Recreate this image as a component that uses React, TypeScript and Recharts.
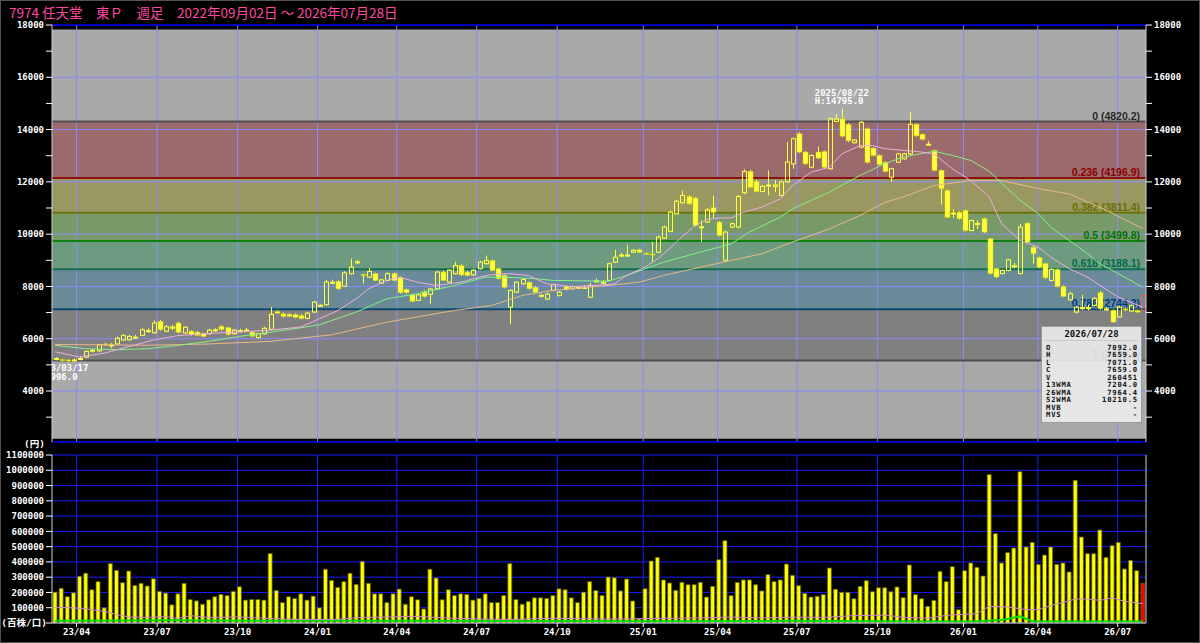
import React from 'react';
import {
  ComposedChart, Bar, Line, XAxis, YAxis, CartesianGrid,
  ReferenceArea, ReferenceLine, ReferenceDot, Cell,
} from 'recharts';

// ---------------- data ----------------
const opens = [
  5220, 5200, 5190, 5180, 5220, 5300, 5540, 5540, 5800, 5740,
  5800, 5950, 5960, 6040, 6130, 6290, 6230, 6660, 6290, 6470,
  6600, 6220, 6290, 6250, 6190, 6190, 6320, 6470, 6420, 6190,
  6290, 6310, 6250, 6040, 6190, 6360, 7040, 6950, 6890, 6920,
  6880, 6780, 7020, 7260, 7300, 8140, 8190, 8010, 8490, 8920,
  8460, 8360, 8490, 8130, 8230, 8490, 8330, 7880, 7680, 7470,
  7800, 7700, 7910, 8550, 8170, 8490, 8800, 8550, 8440, 8680,
  8870, 8990, 8680, 8420, 7210, 7780, 8100, 8160, 7970, 7640,
  7520, 7850, 7650, 8000, 7910, 7940, 7940, 7590, 8190, 8140,
  8230, 8930, 9180, 9180, 9310, 9400, 9270, 9240, 9310, 9850,
  10110, 10780, 11200, 11440, 11380, 10260, 10460, 11010, 10460, 9000,
  10270, 10270, 11580, 12400, 12020, 11630, 11860, 11820, 11480, 12000,
  12690, 13840, 13140, 12560, 13140, 13160, 12500, 14310, 14410, 14200,
  13500, 13330, 14030, 13290, 13010, 12750, 12180, 12750, 12880, 13070,
  14200, 13820, 13420, 13200, 12440, 11670, 10790, 10840, 10900, 10140,
  10390, 10590, 9820, 8680, 8490, 8610, 8770, 8490, 10420, 9500,
  9100, 8870, 8230, 8650, 8000, 7490, 7020, 7170, 7170, 7270,
  7760, 7120, 7080, 6830, 7140, 7060, 7080, 7092,
];
const highs = [
  5300, 5230, 5220, 5240, 5330, 5560, 5620, 5800, 5840, 5830,
  6080, 6180, 6150, 6140, 6400, 6400, 6700, 6720, 6520, 6530,
  6650, 6480, 6330, 6300, 6230, 6380, 6400, 6520, 6460, 6370,
  6380, 6420, 6290, 6230, 6450, 7210, 7090, 7000, 6980, 6970,
  6940, 7030, 7450, 7340, 8250, 8260, 8240, 8580, 9060, 9020,
  8480, 8700, 8530, 8290, 8540, 8530, 8380, 7920, 7720, 7720,
  7850, 7950, 8600, 8600, 8660, 8940, 8850, 8600, 8680, 8980,
  9180, 9030, 8720, 8460, 7890, 8200, 8320, 8200, 8010, 7720,
  7760, 8110, 7820, 8040, 8030, 8020, 8050, 8130, 8300, 8250,
  8920, 9400, 9280, 9600, 9430, 9440, 9300, 9700, 9950, 10330,
  10900, 11320, 11670, 11500, 11420, 10520, 11000, 11480, 10500, 10130,
  10440, 11500, 12480, 12460, 12080, 11870, 12440, 12070, 12050, 13520,
  13700, 13900, 13180, 13060, 13350, 13200, 14460, 14600, 14795, 14250,
  13640, 14330, 14080, 13330, 13050, 12790, 12540, 13110, 13110, 14660,
  14240, 13860, 13560, 13240, 12480, 11710, 10950, 10880, 10940, 10560,
  10540, 10630, 9860, 8720, 8650, 9060, 8900, 10400, 10460, 9540,
  9140, 8910, 8690, 8690, 8040, 7800, 7250, 7680, 7300, 7600,
  7830, 7220, 7120, 7260, 7180, 7310, 7120, 7659,
];
const lows = [
  5180, 5130, 5120, 5140, 5180, 5270, 5480, 5500, 5720, 5640,
  5770, 5920, 5930, 5990, 6100, 6220, 6200, 6300, 6250, 6330,
  6200, 6180, 6120, 6100, 6060, 6160, 6270, 6300, 6130, 6160,
  6240, 6260, 6060, 6000, 6160, 6330, 6940, 6810, 6840, 6780,
  6740, 6750, 6990, 7220, 7270, 8080, 7870, 7980, 8450, 8860,
  8120, 8330, 8200, 8100, 8200, 8200, 7720, 7720, 7400, 7440,
  7580, 7340, 7880, 8200, 8140, 8460, 8400, 8380, 8400, 8650,
  8840, 8580, 8260, 7930, 6560, 7750, 8070, 7880, 7750, 7580,
  7490, 7820, 7620, 7850, 7880, 7900, 7900, 7560, 8150, 8100,
  8200, 8900, 9120, 9130, 9280, 9280, 9200, 8930, 9280, 9820,
  10080, 10750, 11170, 11120, 10290, 9700, 10430, 10590, 9910, 8960,
  10230, 10230, 11540, 11760, 11600, 11600, 11480, 11610, 11450, 11960,
  12500, 13100, 12650, 12520, 12870, 12520, 12470, 14280, 13700, 13520,
  13460, 13290, 12700, 12970, 12620, 12360, 11990, 12720, 12850, 13030,
  13720, 13590, 13380, 12400, 11130, 10610, 10620, 10550, 10100, 10100,
  10200, 10040, 8450, 8320, 8460, 8580, 8690, 8460, 9660, 8870,
  8700, 8290, 8190, 7960, 7580, 7450, 6960, 7100, 7080, 7230,
  7110, 7060, 6600, 6800, 7050, 7030, 6980, 7071,
];
const closes = [
  5240, 5160, 5150, 5190, 5240, 5510, 5560, 5770, 5760, 5760,
  6020, 6120, 6090, 6060, 6340, 6310, 6600, 6350, 6460, 6380,
  6250, 6440, 6160, 6130, 6090, 6330, 6340, 6350, 6170, 6330,
  6310, 6330, 6100, 6190, 6400, 6930, 6980, 6850, 6910, 6820,
  6780, 6980, 7400, 7280, 8170, 8160, 7910, 8520, 8740, 8940,
  8440, 8570, 8230, 8250, 8490, 8230, 7760, 7760, 7430, 7680,
  7610, 7900, 8550, 8230, 8620, 8800, 8440, 8420, 8620, 8930,
  8990, 8610, 8300, 7970, 7850, 8160, 8270, 7910, 7780, 7660,
  7710, 8070, 7780, 7880, 7990, 7960, 7960, 8040, 8210, 8160,
  8870, 9120, 9200, 9200, 9380, 9310, 9240, 9220, 9890, 10270,
  10840, 11260, 11480, 11160, 10330, 10280, 10930, 10840, 9950, 10080,
  10400, 11440, 12400, 11800, 11630, 11830, 11880, 11880, 12000, 12760,
  13650, 13140, 12690, 13010, 12910, 12560, 14410, 14410, 13750, 13570,
  13600, 14280, 12750, 13010, 12660, 12400, 12500, 13070, 13070, 14200,
  13760, 13630, 13440, 12440, 11740, 10650, 10810, 10590, 10140, 10520,
  10410, 10080, 8490, 8360, 8610, 9020, 8790, 10270, 9700, 9250,
  8740, 8330, 8650, 8000, 7620, 7720, 7210, 7190, 7190, 7530,
  7150, 7140, 6640, 7210, 7100, 7270, 7020, 7659,
];
const volumes = [
  202000, 227000, 172000, 198000, 306000, 326000, 218000, 271000, 99000, 389000,
  345000, 264000, 341000, 246000, 260000, 242000, 290000, 207000, 196000, 119000,
  191000, 260000, 154000, 145000, 123000, 152000, 172000, 187000, 180000, 207000,
  238000, 150000, 154000, 154000, 150000, 455000, 213000, 134000, 172000, 161000,
  191000, 150000, 176000, 99000, 352000, 279000, 233000, 271000, 326000, 253000,
  403000, 260000, 191000, 191000, 134000, 191000, 222000, 123000, 172000, 152000,
  92000, 352000, 295000, 152000, 218000, 180000, 191000, 187000, 150000, 161000,
  191000, 134000, 134000, 180000, 389000, 154000, 123000, 141000, 165000, 165000,
  161000, 180000, 224000, 218000, 165000, 134000, 202000, 271000, 213000, 180000,
  301000, 297000, 210000, 288000, 144000, 26000, 225000, 406000, 430000, 282000,
  262000, 214000, 266000, 251000, 251000, 266000, 170000, 240000, 415000, 539000,
  179000, 266000, 282000, 282000, 251000, 210000, 317000, 271000, 282000, 386000,
  312000, 245000, 194000, 170000, 175000, 186000, 360000, 221000, 201000, 201000,
  159000, 240000, 277000, 205000, 231000, 231000, 205000, 236000, 166000, 380000,
  186000, 159000, 109000, 148000, 338000, 271000, 369000, 87000, 343000, 393000,
  365000, 308000, 972000, 585000, 393000, 461000, 491000, 991000, 498000, 528000,
  384000, 445000, 498000, 384000, 393000, 334000, 934000, 563000, 454000, 454000,
  609000, 430000, 507000, 528000, 354000, 410000, 343000, 260451,
];

// moving averages read at sample weeks: [week index, value]
const ma13Points: [number, number][] = [
  [0, 5500], [4, 5300], [8, 5450], [12, 5700], [16, 5950], [20, 6120], [25, 6200],
  [30, 6260], [35, 6330], [40, 6450], [43, 6765], [46, 7080], [49, 7530], [51, 7910],
  [54, 8230], [56, 8355], [59, 8160], [62, 8040], [66, 8160], [69, 8355], [71, 8450],
  [74, 8490], [77, 8420], [80, 8100], [84, 7990], [88, 8040], [91, 8100], [93, 8420],
  [96, 8740], [98, 9050], [100, 9450], [102, 9900], [104, 10300], [106, 10550],
  [108, 10620], [110, 10620], [112, 10840], [115, 11030], [118, 11350], [120, 11860],
  [123, 12370], [126, 12560], [128, 13070], [131, 13390], [133, 13390], [135, 13270],
  [141, 13140], [143, 13070], [146, 12500], [149, 12050], [152, 11420], [154, 10400],
  [157, 9760], [160, 9500], [162, 9120], [165, 8680], [168, 8355], [170, 8040],
  [173, 7590], [177, 7204],
];
const ma26Points: [number, number][] = [
  [0, 5745], [5, 5620], [10, 5580], [15, 5617], [20, 5745], [25, 5900], [30, 6090],
  [35, 6250], [40, 6420], [43, 6535], [49, 7020], [54, 7530], [59, 7720], [65, 8040],
  [70, 8355], [73, 8355], [78, 8300], [81, 8230], [90, 8200], [93, 8420], [99, 8930],
  [104, 9250], [110, 9630], [113, 10080], [118, 10650], [120, 10970], [126, 11610],
  [131, 12250], [135, 12690], [138, 12950], [143, 13170], [146, 13010], [149, 12820],
  [152, 12400], [154, 11950], [157, 11300], [160, 10780], [162, 10270], [165, 9760],
  [168, 9250], [170, 8870], [173, 8490], [177, 7964],
];
const ma52Points: [number, number][] = [
  [0, 5780], [15, 5750], [25, 5800], [35, 5900], [45, 6150], [54, 6635], [65, 7082],
  [71, 7270], [76, 7655], [81, 7847], [90, 8040], [95, 8160], [99, 8420], [110, 8995],
  [115, 9250], [120, 9700], [126, 10200], [131, 10720], [135, 11220], [138, 11420],
  [143, 11860], [149, 12050], [154, 12050], [160, 11740], [165, 11540], [170, 11030],
  [177, 10210],
];
const volMaPinkPoints: [number, number][] = [
  [0, 103000], [3, 99000], [5, 92000], [8, 77000], [10, 55000], [12, 40000], [15, 37000],
  [18, 42000], [20, 29000], [22, 48000], [25, 37000], [30, 40000], [35, 29000], [40, 24000],
  [45, 22000], [50, 37000], [55, 40000], [58, 44000], [62, 37000], [66, 29000], [70, 26000],
  [75, 24000], [80, 31000], [85, 29000], [89, 26000], [95, 28000], [100, 31000], [105, 33000],
  [110, 39000], [115, 33000], [120, 39000], [125, 37000], [130, 48000], [135, 52000],
  [138, 37000], [142, 31000], [145, 50000], [148, 57000], [150, 61000], [152, 109000],
  [155, 105000], [158, 87000], [160, 87000], [162, 114000], [164, 135000], [166, 157000],
  [168, 157000], [170, 148000], [172, 164000], [174, 142000], [177, 127000],
];
const volMaGreenPoints: [number, number][] = [
  [0, 15000], [20, 18000], [40, 14000], [60, 15000], [80, 13000], [100, 12000],
  [120, 14000], [140, 10000], [150, 12000], [154, 20000], [157, 44000], [159, 12000],
  [177, 10000],
];

// Fibonacci retracement levels (price) and their labels
const fibPrices = [14306, 12150, 10816, 9738, 8660, 7125, 5170];
const fibLabels = ['0 (4820.2)', '0.236 (4196.9)', '0.382 (3811.4)', '0.5 (3499.8)', '0.618 (3188.1)', '0.786 (2744.3)', '1 (2179.1)'];

// axes
const priceTicks = [3000, 4000, 5000, 6000, 7000, 8000, 9000, 10000, 11000, 12000, 13000, 14000, 15000, 16000, 17000, 18000];
const priceGrid = [4000, 6000, 8000, 10000, 12000, 14000, 16000];
const volTicks = [0, 100000, 200000, 300000, 400000, 500000, 600000, 700000, 800000, 900000, 1000000, 1100000];
const quarterLabels = ['23/04', '23/07', '23/10', '24/01', '24/04', '24/07', '24/10', '25/01', '25/04', '25/07', '25/10', '26/01', '26/04', '26/07'];
const quarterWeeks = [4.0, 17.1, 30.2, 43.2, 56.1, 69.1, 82.2, 96.2, 108.3, 121.2, 134.3, 148.3, 160.4, 173.4];

const title = '7974 任天堂　東Ｐ　週足　2022年09月02日 ～ 2026年07月28日';
const highMark = { week: 128, date: '2025/08/22', text: 'H:14795.0' };
const lowMark = { week: 1, date: '2023/03/17', text: 'L:4996.0' };
const infoDate = '2026/07/28';
const infoLabels = ['O', 'H', 'L', 'C', 'V', '13WMA', '26WMA', '52WMA', 'MVB', 'MVS'];
const infoValues = ['7092.0', '7659.0', '7071.0', '7659.0', '260451', '7204.0', '7964.4', '10210.5', '-', '-'];

// ---------------- build rows ----------------
const toMap = (pts: [number, number][]) => new Map(pts.map(([i, v]) => [i, v]));
const m13 = toMap(ma13Points);
const m26 = toMap(ma26Points);
const m52 = toMap(ma52Points);
const mvp = toMap(volMaPinkPoints);
const mvg = toMap(volMaGreenPoints);
const N = opens.length;
const rows = opens.map((o, i) => ({
  x: i + 0.5,
  o, h: highs[i], l: lows[i], c: closes[i],
  range: [lows[i], highs[i]],
  vol: volumes[i],
  ma13: m13.has(i) ? m13.get(i) : null,
  ma26: m26.has(i) ? m26.get(i) : null,
  ma52: m52.has(i) ? m52.get(i) : null,
  vmaP: mvp.has(i) ? mvp.get(i) : null,
  vmaG: mvg.has(i) ? mvg.get(i) : null,
  last: i === N - 1,
}));

// ---------------- styles ----------------
const MONO = "'DejaVu Sans Mono', 'Liberation Mono', monospace";
const CJK = "'DejaVu Sans Mono', 'Noto Sans CJK JP', monospace";
const PLOT_LEFT = 52;
const bandColors = ['#9a6a6c', '#989860', '#789a68', '#6e9a80', '#6a8a98', '#808080'];
const fibLineColors = ['#505050', '#8b1010', '#707010', '#108010', '#107050', '#104a70', '#505050'];
const fibTextColors = ['#2a2a2a', '#8b0000', '#687000', '#007400', '#006a4a', '#003a80', '#2a2a2a'];
const GRID_LIGHT = '#8a8aff';
const GRID_BLUE = '#1a1aff';
const AXIS = '#d0d0d0';
const tickStyle = { fill: '#ffffff', fontSize: 9, fontWeight: 700, fontFamily: MONO };

const Candle = (props: any) => {
  const { x, y, width, height, payload } = props;
  if (!payload) return null;
  const { o, h, l, c, last } = payload;
  const cx = Math.round(x + width / 2) + 0.5;
  const span = h - l;
  const k = span > 0 ? height / span : 0;
  const yOf = (v: number) => y + (h - v) * k;
  const top = yOf(Math.max(o, c));
  const bot = yOf(Math.min(o, c));
  const up = c > o;
  const color = last ? '#ff5a5a' : '#ffff40';
  const bw = 4;
  const bodyH = Math.max(bot - top, 1);
  return (
    <g>
      <line x1={cx} x2={cx} y1={y} y2={top} stroke={color} strokeWidth={1} />
      <line x1={cx} x2={cx} y1={top + bodyH} y2={y + height} stroke={color} strokeWidth={1} />
      {up ? (
        <rect x={cx - bw / 2} y={top} width={bw} height={bodyH} fill="none" stroke={color} strokeWidth={1} />
      ) : (
        <rect x={cx - bw / 2 - 0.5} y={top} width={bw + 1} height={bodyH} fill={color} stroke="#d8d800" strokeWidth={0.5} />
      )}
    </g>
  );
};

const fibLabel = (text: string, color: string) => (props: any) => {
  const vb = props.viewBox || {};
  return (
    <text x={(vb.x || 0) + (vb.width || 0) - 6} y={(vb.y || 0) - 2} textAnchor="end" fill={color}
      fontSize={10.5} fontWeight={700} fontFamily="'Liberation Sans', Arial, sans-serif">{text}</text>
  );
};

const HighLabel = (props: any) => {
  const { cx, cy } = props;
  return (
    <g>
      <text x={cx - 27} y={cy - 13} fill="#ffffff" fontSize={9} fontWeight={700} fontFamily={MONO}>{highMark.date}</text>
      <text x={cx - 27} y={cy - 4.5} fill="#ffffff" fontSize={9} fontWeight={700} fontFamily={MONO}>{highMark.text}</text>
    </g>
  );
};

const LowLabel = (props: any) => {
  const { cx, cy } = props;
  return (
    <g>
      <defs>
        <clipPath id="lowLabelClip">
          <rect x={PLOT_LEFT} y={0} width={2000} height={1000} />
        </clipPath>
      </defs>
      <g clipPath="url(#lowLabelClip)">
        <text x={cx - 27} y={cy + 10} fill="#ffffff" fontSize={9} fontWeight={700} fontFamily={MONO}>{lowMark.date}</text>
        <text x={cx - 27} y={cy + 19} fill="#ffffff" fontSize={9} fontWeight={700} fontFamily={MONO}>{lowMark.text}</text>
      </g>
    </g>
  );
};

const priceFmt = (v: number) => (v % 2000 === 0 && v >= 4000 ? String(v) : '');
const volFmt = (v: number) => (v === 0 ? '' : String(v));
const quarterFmt = (v: number) => {
  const idx = quarterWeeks.indexOf(v);
  return idx >= 0 ? quarterLabels[idx] : '';
};

function PriceChart() {
  return (
    <ComposedChart width={1200} height={450} data={rows} margin={{ top: 25, right: 0, bottom: 8, left: 0 }}>
      <XAxis dataKey="x" type="number" domain={[0, 178]} hide allowDataOverflow />
      <YAxis domain={[2050, 18000]} ticks={priceTicks} tickFormatter={priceFmt} width={52} interval={0}
        tick={tickStyle} tickLine={{ stroke: '#ffffff' }} axisLine={{ stroke: AXIS }} allowDataOverflow />
      <YAxis yAxisId="right" orientation="right" domain={[2050, 18000]} ticks={priceTicks} tickFormatter={priceFmt}
        width={54} interval={0} tick={tickStyle} tickLine={{ stroke: '#ffffff' }} axisLine={{ stroke: AXIS }} allowDataOverflow />
      <ReferenceArea y1={2170} y2={17830} fill="#a9a9a9" fillOpacity={1} stroke="none" zIndex={-90} />
      {bandColors.map((col, i) => (
        <ReferenceArea key={'b' + i} y1={fibPrices[i + 1]} y2={fibPrices[i]} fill={col} fillOpacity={1} stroke="none" zIndex={-80} />
      ))}
      {priceGrid.map((p) => (
        <ReferenceLine key={'g' + p} y={p} stroke={GRID_LIGHT} strokeWidth={1} zIndex={-70} />
      ))}
      {quarterWeeks.map((w) => (
        <ReferenceLine key={'v' + w} x={w} stroke={GRID_LIGHT} strokeWidth={1} zIndex={-70} />
      ))}
      <ReferenceLine y={18000} stroke="#0000ff" strokeWidth={1.5} zIndex={-70} />
      <ReferenceLine y={2050} stroke="#0000ff" strokeWidth={1.5} zIndex={-70} />
      {fibPrices.map((p, i) => (
        <ReferenceLine key={'f' + i} y={p} stroke={fibLineColors[i]} strokeWidth={2} zIndex={-60}
          label={fibLabel(fibLabels[i], fibTextColors[i])} />
      ))}
      <Line dataKey="ma52" stroke="#e8b888" strokeWidth={1} dot={false} connectNulls isAnimationActive={false} />
      <Line dataKey="ma26" stroke="#84f284" strokeWidth={1} dot={false} connectNulls isAnimationActive={false} />
      <Line dataKey="ma13" stroke="#f0aee0" strokeWidth={1} dot={false} connectNulls isAnimationActive={false} />
      <Bar dataKey="range" barSize={5} shape={Candle} isAnimationActive={false} />
      <ReferenceDot x={highMark.week + 0.5} y={highs[highMark.week]} r={0} shape={HighLabel} />
      <ReferenceDot x={lowMark.week + 0.5} y={lows[lowMark.week]} r={0} shape={LowLabel} />
    </ComposedChart>
  );
}

function VolumeChart() {
  return (
    <ComposedChart width={1200} height={203} data={rows} margin={{ top: 15, right: 0, bottom: 0, left: 0 }}>
      <CartesianGrid vertical={false} stroke={GRID_BLUE} strokeWidth={1} />
      <XAxis dataKey="x" type="number" domain={[0, 178]} ticks={quarterWeeks} tickFormatter={quarterFmt}
        interval={0} height={20} tickSize={4} tick={tickStyle} tickLine={{ stroke: '#ffffff' }}
        axisLine={{ stroke: AXIS }} allowDataOverflow />
      <YAxis domain={[0, 1100000]} ticks={volTicks} tickFormatter={volFmt} width={52} interval={0}
        tick={tickStyle} tickLine={{ stroke: '#ffffff' }} axisLine={{ stroke: AXIS }} />
      <YAxis yAxisId="right" orientation="right" domain={[0, 1100000]} width={54} tick={false} tickLine={false}
        axisLine={{ stroke: AXIS }} />
      {quarterWeeks.map((w) => (
        <ReferenceLine key={'vv' + w} x={w} stroke={GRID_BLUE} strokeWidth={1} zIndex={-70} />
      ))}
      <Bar dataKey="vol" barSize={4} fill="#ffff00" stroke="#5a5a00" strokeWidth={0.8} isAnimationActive={false}>
        {rows.map((r, i) => (
          <Cell key={i} fill={r.last ? '#ff0000' : '#ffff00'} />
        ))}
      </Bar>
      <Line dataKey="vmaG" stroke="#00dd00" strokeWidth={2} dot={false} connectNulls isAnimationActive={false} />
      <Line dataKey="vmaP" stroke="#d088c8" strokeWidth={1} dot={false} connectNulls isAnimationActive={false} />
    </ComposedChart>
  );
}

export default function App() {
  return (
    <div style={{ position: 'absolute', left: 0, top: 0, width: 1200, height: 643, background: '#000', overflow: 'hidden', boxSizing: 'border-box', border: '1px solid #555' }}>
      <div style={{ position: 'absolute', left: 8, top: 2, color: '#ff48a0', fontSize: 13.5, lineHeight: '18px', fontFamily: "'Noto Sans CJK JP', sans-serif", whiteSpace: 'pre' }}>
        {title}
      </div>
      <div style={{ position: 'absolute', left: -1, top: -1 }}>
        <PriceChart />
      </div>
      <div style={{ position: 'absolute', left: -1, top: 439 }}>
        <VolumeChart />
      </div>
      <div style={{ position: 'absolute', left: 0, width: 44, top: 437, textAlign: 'right', color: '#fff', fontSize: 9.5, fontWeight: 700, fontFamily: CJK, lineHeight: '12px' }}>(円)</div>
      <div style={{ position: 'absolute', left: 0, width: 46, top: 616, textAlign: 'right', color: '#fff', fontSize: 9.5, fontWeight: 700, fontFamily: CJK, lineHeight: '12px', whiteSpace: 'pre' }}>(百株/口)</div>
      <div style={{ position: 'absolute', left: 1040, top: 325, width: 99, height: 95, background: 'rgba(236,236,236,0.9)', border: '1px solid #9a9a9a', fontFamily: MONO, fontWeight: 700, color: '#111' }}>
        <div style={{ position: 'absolute', left: 0, right: 0, top: 3, textAlign: 'center', lineHeight: '9px', fontSize: 9 }}>{infoDate}</div>
        <div style={{ position: 'absolute', left: 3, right: 3, top: 13, borderTop: '1px solid #c8c8c8' }} />
        {infoLabels.map((lab, i) => (
          <div key={lab} style={{ position: 'absolute', left: 4, right: 3, top: 16.5 + i * 7.5, height: 7, lineHeight: '7px', fontSize: 7.2, letterSpacing: 0.8, display: 'flex', justifyContent: 'space-between' }}>
            <span>{lab}</span>
            <span>{infoValues[i]}</span>
          </div>
        ))}
      </div>
    </div>
  );
}
